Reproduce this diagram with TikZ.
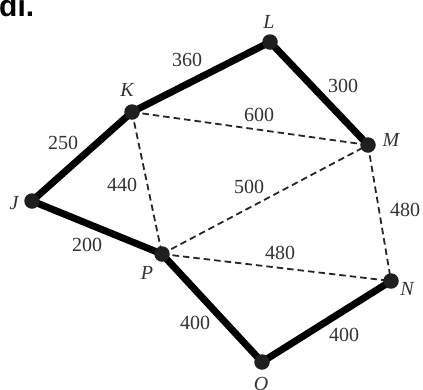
\documentclass[tikz,border=0pt]{standalone}
\usepackage{fontspec}
\setmainfont{Liberation Serif}
\newfontfamily\headfont{Liberation Sans}
\usetikzlibrary{backgrounds}
\begin{document}
\begin{tikzpicture}[x=1pt,y=-1pt,
  dot/.style={circle,fill=black!88,inner sep=0pt,minimum size=15.5pt},
  tour/.style={line width=7pt,line join=round},
  alt/.style={line width=1.8pt,dash pattern=on 6.5pt off 4pt,black!85},
  vlab/.style={font=\fontsize{20}{20}\selectfont\itshape,text=black!80,inner sep=0pt},
  wlab/.style={font=\fontsize{20}{20}\selectfont,text=black!80,inner sep=0pt}]
\useasboundingbox (0,0) rectangle (423,389);
\clip (0,0) rectangle (423,389);
\node[anchor=base west,inner sep=0pt,font=\headfont\bfseries\fontsize{30}{30}\selectfont] (head) at (-1,16) {di.};
% vertices
\node[dot] (L) at (270,42) {};
\node[dot] (M) at (368,145) {};
\node[dot] (N) at (391,281) {};
\node[dot] (O) at (262,362) {};
\node[dot] (P) at (162,254) {};
\node[dot] (J) at (32,201) {};
\node[dot] (K) at (132,112) {};
\begin{scope}[on background layer]
  \draw[tour] (K.center) -- (L.center) -- (M.center);
  \draw[tour] (K.center) -- (J.center) -- (P.center) -- (O.center) -- (N.center);
  \draw[alt] (K.center) -- (M.center);
  \draw[alt] (K.center) -- (P.center);
  \draw[alt] (P.center) -- (M.center);
  \draw[alt] (P.center) -- (N.center);
  \draw[alt] (M.center) -- (N.center);
\end{scope}
% vertex labels
\node[vlab] (lL) at (269,22) {L};
\node[vlab] (lM) at (391,140) {M};
\node[vlab] (lN) at (407,289) {N};
\node[vlab] (lO) at (261,384) {O};
\node[vlab] (lP) at (147,273) {P};
\node[vlab] (lJ) at (14,203) {J};
\node[vlab] (lK) at (127,90) {K};
% weights
\node[wlab] (wKL) at (187,60) {360};
\node[wlab] (wLM) at (343,86) {300};
\node[wlab] (wKM) at (259,115) {600};
\node[wlab] (wPM) at (249,187) {500};
\node[wlab] (wKJ) at (63,143) {250};
\node[wlab] (wKP) at (122,185) {440};
\node[wlab] (wJP) at (87,245) {200};
\node[wlab] (wPO) at (195,323) {400};
\node[wlab] (wMN) at (405,210) {480};
\node[wlab] (wPN) at (280,253) {480};
\node[wlab] (wON) at (344,335) {400};
\end{tikzpicture}
\end{document}
